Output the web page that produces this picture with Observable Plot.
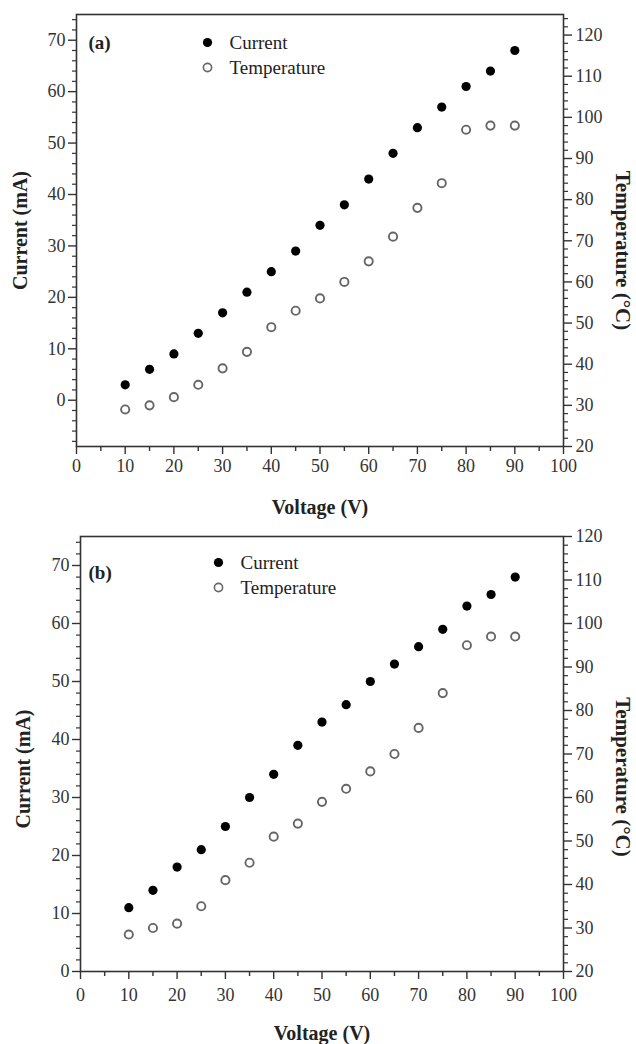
<!DOCTYPE html>
<html>
<head>
<meta charset="utf-8">
<script src="https://cdn.jsdelivr.net/npm/d3@7"></script>
<script src="https://cdn.jsdelivr.net/npm/@observablehq/plot@0.6"></script>
<style>
  body { margin: 0; background: #fff; }
  #chart svg { display: block; }
</style>
</head>
<body>
<div id="chart"></div>
<script>
// ---- data ----
const voltage = [10, 15, 20, 25, 30, 35, 40, 45, 50, 55, 60, 65, 70, 75, 80, 85, 90];
const currentA = [3, 6, 9, 13, 17, 21, 25, 29, 34, 38, 43, 48, 53, 57, 61, 64, 68];
const temperatureA = [29, 30, 32, 35, 39, 43, 49, 53, 56, 60, 65, 71, 78, 84, 97, 98, 98];
const currentB = [11, 14, 18, 21, 25, 30, 34, 39, 43, 46, 50, 53, 56, 59, 63, 65, 68];
const temperatureB = [28.5, 30, 31, 35, 41, 45, 51, 54, 59, 62, 66, 70, 76, 84, 95, 97, 97];

const voltageTicks = [0, 10, 20, 30, 40, 50, 60, 70, 80, 90, 100];
const voltageMinorTicks = [5, 15, 25, 35, 45, 55, 65, 75, 85, 95];
const currentTicks = [0, 10, 20, 30, 40, 50, 60, 70];
const temperatureTicks = [20, 30, 40, 50, 60, 70, 80, 90, 100, 110, 120];

const panelTags = ["(a)", "(b)"];
const legendLabels = ["Current", "Temperature"];
const xTitle = "Voltage (V)";
const yLeftTitle = "Current (mA)";
const yRightTitle = "Temperature (°C)";

// ---- layout / style ----
const FONT = "'Liberation Serif', 'Times New Roman', Times, serif";
const INK = "#222";
const AXIS = "#333";

const panels = [
  {
    tag: panelTags[0], current: currentA, temperature: temperatureA,
    cDomain: [-9, 75], tDomain: [20, 125],
    height: 520, mt: 14, mb: 74, ml: 76, mr: 73,
    xPad: 5, xTitleDy: 61,
    leftTitleDx: -56, leftTitleDy: 0, rightTitleDx: 59, rightTitleDy: 20,
    legDx: 131, legDy: 28, legGap: 25, tagDx: 12, tagDy: 28
  },
  {
    tag: panelTags[1], current: currentB, temperature: temperatureB,
    cDomain: [0, 75], tDomain: [20, 120],
    height: 524, mt: 16, mb: 73, ml: 80, mr: 73,
    xPad: 9, xTitleDy: 62,
    leftTitleDx: -57, leftTitleDy: 15, rightTitleDx: 59, rightTitleDy: 23,
    legDx: 138, legDy: 26, legGap: 25, tagDx: 8, tagDy: 36
  }
];

function makePanel(p) {
  const [c0, c1] = p.cDomain, [t0, t1] = p.tDomain;
  const toLeft = t => c0 + (t - t0) * (c1 - c0) / (t1 - t0);
  const fromLeft = c => t0 + (c - c0) * (t1 - t0) / (c1 - c0);
  const rows = voltage.map((v, i) => ({v, c: p.current[i], t: p.temperature[i]}));
  const cMinor = d3.range(Math.ceil(c0 / 2) * 2, c1 + 0.001, 2).filter(v => v % 10 !== 0);
  const tMinor = d3.range(t0, t1 + 0.001, 2).filter(v => v % 10 !== 0).map(toLeft);

  return Plot.plot({
    width: 636,
    height: p.height,
    marginTop: p.mt, marginBottom: p.mb, marginLeft: p.ml, marginRight: p.mr,
    x: {domain: [0, 100]},
    y: {domain: p.cDomain},
    style: {fontFamily: FONT, fontSize: "18px", color: AXIS, background: "#fff"},
    marks: [
      Plot.frame({stroke: AXIS, strokeWidth: 1.6}),
      // x axis
      Plot.axisX({ticks: voltageTicks, tickSize: 8, tickPadding: p.xPad, strokeWidth: 1.4, label: null, fontSize: 18, fill: AXIS}),
      Plot.axisX({ticks: voltageMinorTicks, tickSize: 5, strokeWidth: 1.4, text: null, label: null}),
      // left axis
      Plot.axisY({ticks: currentTicks, tickSize: 8, tickPadding: 3, strokeWidth: 1.4, label: null, fontSize: 18, fill: AXIS}),
      Plot.axisY({ticks: cMinor, tickSize: 4, strokeWidth: 1.2, text: null, label: null}),
      // right axis (temperature)
      Plot.axisY({anchor: "right", ticks: temperatureTicks.map(toLeft), tickFormat: c => String(Math.round(fromLeft(c))),
        tickSize: 8, tickPadding: 4, strokeWidth: 1.4, label: null, fontSize: 18, fill: AXIS}),
      Plot.axisY({anchor: "right", ticks: tMinor, tickSize: 4, strokeWidth: 1.2, text: null, label: null}),
      // data
      Plot.dot(rows, {x: "v", y: "c", r: 4.6, fill: "#000", stroke: "none"}),
      Plot.dot(rows, {x: "v", y: d => toLeft(d.t), r: 4.1, fill: "#fff", stroke: "#666", strokeWidth: 1.9}),
      // legend
      Plot.dot([legendLabels[0]], {frameAnchor: "top-left", dx: p.legDx, dy: p.legDy, r: 4.6, fill: "#000", stroke: "none"}),
      Plot.dot([legendLabels[1]], {frameAnchor: "top-left", dx: p.legDx, dy: p.legDy + p.legGap, r: 4.1, fill: "#fff", stroke: "#666", strokeWidth: 1.6}),
      Plot.text([legendLabels[0]], {text: d => d, frameAnchor: "top-left", dx: p.legDx + 22, dy: p.legDy, textAnchor: "start", lineAnchor: "middle", fontSize: 19, fill: INK}),
      Plot.text([legendLabels[1]], {text: d => d, frameAnchor: "top-left", dx: p.legDx + 22, dy: p.legDy + p.legGap, textAnchor: "start", lineAnchor: "middle", fontSize: 19, fill: INK}),
      Plot.text([p.tag], {text: d => d, frameAnchor: "top-left", dx: p.tagDx, dy: p.tagDy, textAnchor: "start", lineAnchor: "middle", fontSize: 19, fontWeight: "bold", fill: INK}),
      // axis titles
      Plot.text([xTitle], {text: d => d, frameAnchor: "bottom", dy: p.xTitleDy, textAnchor: "middle", lineAnchor: "middle", fontSize: 20, fontWeight: "bold", fill: INK}),
      Plot.text([yLeftTitle], {text: d => d, frameAnchor: "left", dx: p.leftTitleDx, dy: p.leftTitleDy, rotate: -90, textAnchor: "middle", lineAnchor: "middle", fontSize: 20, fontWeight: "bold", fill: INK}),
      Plot.text([yRightTitle], {text: d => d, frameAnchor: "right", dx: p.rightTitleDx, dy: p.rightTitleDy, rotate: 90, textAnchor: "middle", lineAnchor: "middle", fontSize: 21, fontWeight: "bold", fill: INK})
    ]
  });
}

const root = document.getElementById("chart");
for (const p of panels) root.appendChild(makePanel(p));
</script>
</body>
</html>
